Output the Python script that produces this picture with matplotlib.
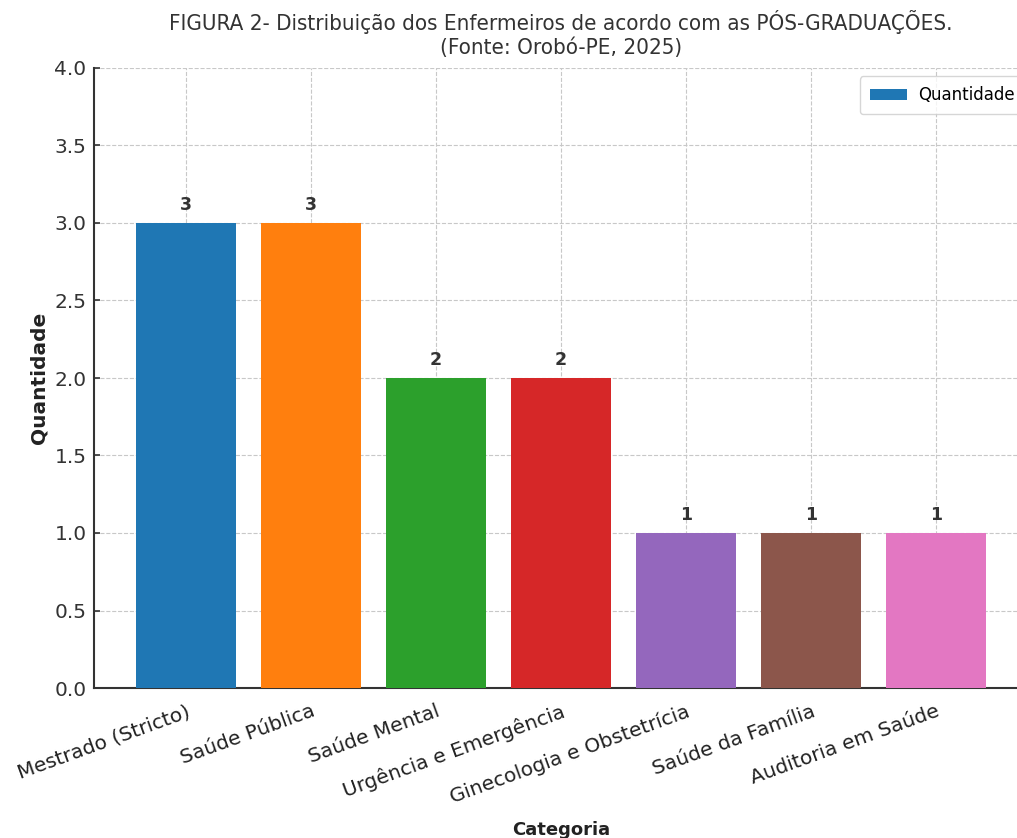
import matplotlib
matplotlib.use("Agg")
import matplotlib.pyplot as plt

categorias = [
    "Mestrado (Stricto)",
    "Saúde Pública",
    "Saúde Mental",
    "Urgência e Emergência",
    "Ginecologia e Obstetrícia",
    "Saúde da Família",
    "Auditoria em Saúde",
]
quantidades = [3, 3, 2, 2, 1, 1, 1]
cores = ["#1f77b4", "#ff7f0e", "#2ca02c", "#d62728", "#9467bd", "#8c564b", "#e377c2"]
y_ticks = [0.0, 0.5, 1.0, 1.5, 2.0, 2.5, 3.0, 3.5, 4.0]

plt.rcParams["font.family"] = "DejaVu Sans"

fig = plt.figure(figsize=(10.17, 8.38), dpi=100)
ax = fig.add_axes([93.5 / 1017, 150 / 838, 935 / 1017, 620 / 838])

barras = ax.bar(range(len(categorias)), quantidades, width=0.8, color=cores,
                label="Quantidade", zorder=3)

for b, v in zip(barras, quantidades):
    ax.text(b.get_x() + b.get_width() / 2, v + 0.06, f"{v}", ha="center",
            va="bottom", fontsize=12.5, fontweight="bold", color="#333333", zorder=4)

ax.set_ylim(0, 4)
ax.set_yticks(y_ticks)
ax.set_yticklabels([f"{t:.1f}" for t in y_ticks])
ax.set_xticks(range(len(categorias)))
ax.set_xticklabels(categorias, rotation=20, ha="right", rotation_mode="anchor")
ax.tick_params(axis="both", direction="in", labelsize=14.5, colors="#333333",
               length=4, width=1.2)
ax.tick_params(axis="y", pad=5)
ax.tick_params(axis="x", labelcolor="#222222", pad=10)

ax.grid(True, linestyle="--", color="#c8c8c8", linewidth=0.8, zorder=0)
ax.set_axisbelow(True)
for s in ["top", "right"]:
    ax.spines[s].set_visible(False)
for s in ["left", "bottom"]:
    ax.spines[s].set_color("#333333")
    ax.spines[s].set_linewidth(1.5)

ax.set_xlabel("Categoria", fontsize=13, fontweight="bold", labelpad=10, color="#222222")
ax.set_ylabel("Quantidade", fontsize=14.5, fontweight="bold", labelpad=4, color="#222222")
ax.set_title("FIGURA 2- Distribuição dos Enfermeiros de acordo com as PÓS-GRADUAÇÕES.\n"
             "(Fonte: Orobó-PE, 2025)", fontsize=16, color="#333333",
             fontstretch="condensed", linespacing=1.2, pad=10)

leg = ax.legend(loc="upper right", bbox_to_anchor=(1.005, 1.0), fontsize=12,
                frameon=True, fancybox=True, borderpad=0.6, handlelength=2.2,
                handletextpad=0.7)
leg.get_frame().set_edgecolor("#cccccc")

fig.savefig("out.png", dpi=100)
